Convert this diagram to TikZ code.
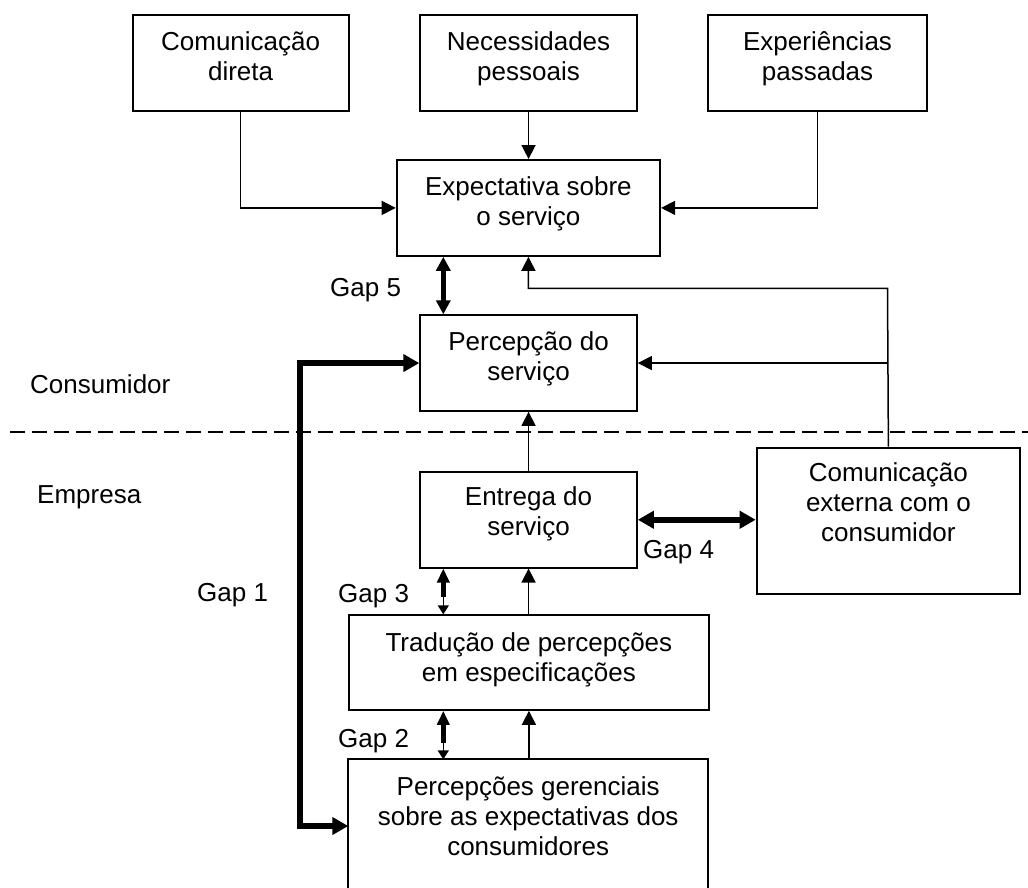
\documentclass[tikz,border=0pt]{standalone}
\usepackage{fontspec}
\setmainfont{Liberation Sans}
\usetikzlibrary{arrows.meta}
\begin{document}
\begin{tikzpicture}[x=1pt,y=-1pt,
  box/.style={draw, line width=1.8pt, inner sep=0pt, anchor=north west},
  frame/.style={inner sep=0pt, anchor=north west},
  boxline/.style={line width=1.8pt},
  txt/.style={anchor=north, inner sep=0pt, align=center, font=\fontsize{26}{30}\selectfont},
  lbl/.style={anchor=base west, inner sep=0pt, font=\fontsize{26}{30}\selectfont},
  conn/.style={line width=1.5pt, -{Triangle[length=14pt,width=14pt]}},
  plain/.style={line width=1.5pt},
  gapfive/.style={line width=5.5pt, {Triangle[length=14pt,width=14pt]}-{Triangle[length=14pt,width=14pt]}},
  gapbig/.style={line width=6pt, line join=miter, {Triangle[length=16pt,width=17pt]}-{Triangle[length=16pt,width=17pt]}},
  gapup/.style={line width=5.5pt, -{Triangle[length=14pt,width=12pt]}},
  gapdown/.style={line width=1.5pt, -{Triangle[length=9pt,width=11pt]}},
  divider/.style={line width=2pt, dash pattern=on 15pt off 7pt}
]
\path[use as bounding box, fill=white] (0,0) rectangle (1028,887);

% top row
\node[box, minimum width=216pt, minimum height=95.7pt] (cd) at (131.7,14.3) {};
\node[txt] at ([yshift=-15pt]cd.north) {\strut Comunicação\\direta};
\node[box, minimum width=216.7pt, minimum height=95.7pt] (np) at (419.3,14.3) {};
\node[txt] at ([yshift=-15pt]np.north) {\strut Necessidades\\pessoais};
\node[box, minimum width=218.7pt, minimum height=95.7pt] (ep) at (707.3,14.3) {};
\node[txt] at ([yshift=-15pt]ep.north) {\strut Experiências\\passadas};

% expectativa
\node[box, minimum width=263.6pt, minimum height=96pt] (ex) at (395.7,159) {};
\node[txt] at ([yshift=-15pt]ex.north) {\strut Expectativa sobre\\o serviço};

% percepcao
\node[box, minimum width=216.7pt, minimum height=95.7pt] (pc) at (419.3,314.3) {};
\node[txt] at ([yshift=-15pt]pc.north) {\strut Percepção do\\serviço};

% entrega
\node[box, minimum width=216.7pt, minimum height=95.7pt] (en) at (419.3,471) {};
\node[txt] at ([yshift=-13pt]en.north) {\strut Entrega do\\serviço};

% comunicacao externa
\node[box, minimum width=263.6pt, minimum height=146.6pt] (ce) at (755.7,446.7) {};
\node[txt] at ([yshift=-14pt]ce.north) {\strut Comunicação\\externa com o\\consumidor};

% traducao
\node[box, minimum width=359.4pt, minimum height=94.7pt] (tr) at (348.3,614.3) {};
\node[txt] at ([yshift=-16pt]tr.north) {\strut Tradução de percepções\\em especificações};

% percepcoes gerenciais (open at the bottom)
\node[frame, minimum width=359.4pt, minimum height=133pt] (pg) at (348.3,759.3) {};
\draw[boxline] (pg.south west) -- (pg.north west) -- (pg.north east) -- (pg.south east);
\node[txt] at ([yshift=-15pt]pg.north) {\strut Percepções gerenciais\\sobre as expectativas dos\\consumidores};

% labels
\node[lbl] (l5) at (330,296) {Gap 5};
\node[lbl] (lc) at (30,393) {Consumidor};
\node[lbl] (le) at (37,503) {Empresa};
\node[lbl] (l1) at (197,601) {Gap 1};
\node[lbl] (l3) at (338,602.5) {Gap 3};
\node[lbl] (l4) at (643,558.5) {Gap 4};
\node[lbl] (l2) at (338,747) {Gap 2};

% divider
\coordinate (dl) at (10,432);
\coordinate (dr) at (1028,432);
\draw[divider] (dl) -- (dr);

% helper coordinates
\coordinate (gx) at (443.3,0);
\coordinate (g1) at (300,0);
\coordinate (topturn) at (887.5,288.3);
\coordinate (g3m) at (443.3,597);
\coordinate (g2m) at (443.3,742.5);

% inputs to expectativa
\draw[conn] (cd.south) |- (ex.west);
\draw[conn] (np.south) -- (np.south |- ex.north);
\draw[conn] (ep.south) |- (ex.east);

% gap 5
\draw[gapfive] (ex.south -| gx) -- (pc.north -| gx);

% external communication feedback
\draw[conn] (ce.north) -- (topturn) -| (ex.south);
\draw[conn] (ce.north |- pc.east) -- (pc.east);

% entrega -> percepcao
\draw[conn] (en.north) -- (pc.south);

% gap 4
\draw[gapbig] (en.east) -- (en.east -| ce.west);

% gap 1
\draw[gapbig] (pc.west) -- (pc.west -| g1) -- (pg.west -| g1) -- (pg.west);

% gap 3
\draw[gapup] (g3m) -- (en.south -| g3m);
\draw[gapdown] (g3m) -- (tr.north -| g3m);
\draw[conn] (tr.north -| en.south) -- (en.south);

% gap 2
\draw[gapup] (g2m) -- (tr.south -| g2m);
\draw[gapdown] (g2m) -- (pg.north -| g2m);
\draw[conn] (pg.north -| tr.south) -- (tr.south);
\end{tikzpicture}
\end{document}
